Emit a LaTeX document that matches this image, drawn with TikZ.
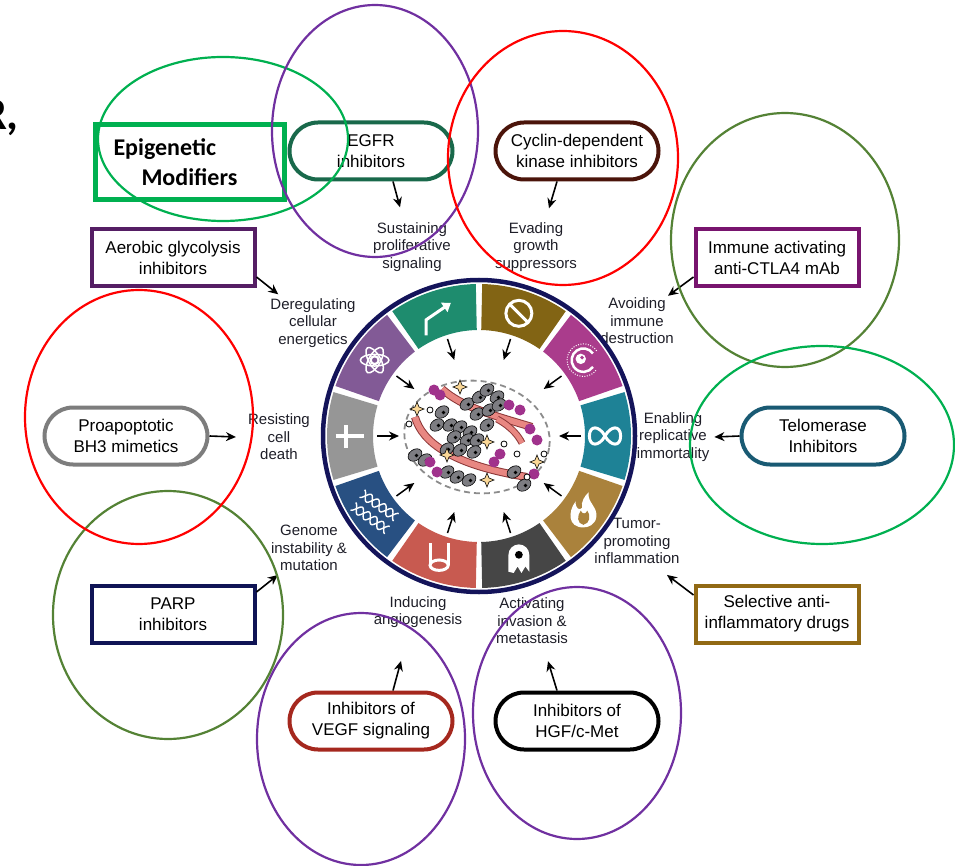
\documentclass[tikz,border=0pt]{standalone}
\usepackage{fontspec}
\setmainfont{Liberation Sans}
\newfontfamily\calibri{Carlito}
\usetikzlibrary{arrows.meta,calc}
% box outlines
\definecolor{egfrgreen}{RGB}{25,105,75}
\definecolor{cdkbrown}{RGB}{75,20,10}
\definecolor{immunemag}{RGB}{120,20,110}
\definecolor{telomteal}{RGB}{25,90,115}
\definecolor{antiinfgold}{RGB}{145,105,20}
\definecolor{vegfred}{RGB}{165,40,30}
\definecolor{parpnavy}{RGB}{15,20,85}
\definecolor{bhgray}{RGB}{125,125,125}
\definecolor{aeropurple}{RGB}{85,30,100}
\definecolor{epigreen}{RGB}{0,176,80}
% overlay rings
\definecolor{ovalgreen}{RGB}{0,176,80}
\definecolor{ovalolive}{RGB}{84,130,53}
\definecolor{ovalred}{RGB}{255,0,0}
\definecolor{ovalpurple}{RGB}{112,48,160}
% wheel segments
\definecolor{wheelnavy}{RGB}{20,20,90}
\definecolor{segteal}{RGB}{30,130,150}
\definecolor{segmag}{RGB}{170,60,140}
\definecolor{segbrown}{RGB}{130,100,20}
\definecolor{seggreen}{RGB}{30,140,110}
\definecolor{segpurple}{RGB}{130,90,150}
\definecolor{seggray}{RGB}{150,150,150}
\definecolor{segblue}{RGB}{40,80,130}
\definecolor{segsalmon}{RGB}{200,90,80}
\definecolor{segdark}{RGB}{70,70,70}
\definecolor{seggold}{RGB}{170,130,60}
% tumour
\definecolor{tumorgray}{RGB}{140,140,140}
\definecolor{cellgray}{RGB}{125,125,130}
\definecolor{vesselpink}{RGB}{232,135,130}
\definecolor{vesseldark}{RGB}{140,55,55}
\definecolor{blobpurple}{RGB}{160,50,140}
\definecolor{startan}{RGB}{250,215,150}
\definecolor{labeltext}{RGB}{30,30,40}

\begin{document}
\begin{tikzpicture}[x=1pt,y=1pt,
    >={Stealth[length=10pt,width=9pt]},
    pill/.style={draw,line width=4pt,rounded corners=28.5pt,fill=white,minimum width=163pt,minimum height=57pt,align=center,font=\fontsize{17}{21}\selectfont},
    drugbox/.style={draw,line width=4pt,fill=white,minimum width=163pt,minimum height=57pt,align=center,font=\fontsize{17}{21}\selectfont},
    hallmark/.style={align=center,inner sep=2pt,text=labeltext,font=\fontsize{15}{17.5}\selectfont},
    link/.style={->,line width=1.6pt},
    oval/.style={line width=2.2pt},
    icon/.style={white,line width=3pt}
]
\useasboundingbox (0,0) rectangle (955,-866);
\clip (0,0) rectangle (955,-866);

\node[font=\calibri\bfseries\fontsize{46}{50}\selectfont,anchor=base east,inner sep=0pt] (rmark) at (19,-130) {R,};

% therapy boxes
\node[draw=epigreen,line width=5pt,minimum width=189pt,minimum height=75pt,text width=175pt,align=left,font=\calibri\bfseries\fontsize{24}{30}\selectfont] (epi) at (190,-162) {\hspace*{11pt}Epigenetic\\\hspace*{39pt}Modifiers};
\node[pill,draw=egfrgreen] (egfr) at (371,-151) {EGFR\\inhibitors};
\node[pill,draw=cdkbrown] (cdk) at (577,-151) {Cyclin-dependent\\kinase inhibitors};
\node[drugbox,draw=immunemag] (immune) at (777,-258) {Immune activating\\anti-CTLA4 mAb};
\node[pill,draw=telomteal] (telo) at (823,-436) {Telomerase\\Inhibitors};
\node[drugbox,draw=antiinfgold] (antiinf) at (777,-614) {Selective anti-\\inflammatory drugs};
\node[pill,draw=black] (hgf) at (577,-721) {Inhibitors of\\HGF/c-Met};
\node[pill,draw=vegfred] (vegf) at (371,-721) {Inhibitors of\\VEGF signaling};
\node[drugbox,draw=parpnavy] (parp) at (173,-614) {PARP\\inhibitors};
\node[pill,draw=bhgray] (bh3) at (126,-436) {Proapoptotic\\BH3 mimetics};
\node[drugbox,draw=aeropurple] (aero) at (173,-258) {Aerobic glycolysis\\inhibitors};

% hallmark labels
\node[hallmark] (sustain) at (412,-247) {Sustaining\\proliferative\\signaling};
\node[hallmark] (evade) at (536,-247) {Evading\\growth\\suppressors};
\node[hallmark] (avoid) at (637,-321) {Avoiding\\immune\\destruction};
\node[hallmark] (enable) at (673,-437) {Enabling\\replicative\\immortality};
\node[hallmark] (tumor) at (637,-541) {Tumor-\\promoting\\inflammation};
\node[hallmark] (invade) at (532,-621) {Activating\\invasion \&\\metastasis};
\node[hallmark] (angio) at (418,-612) {Inducing\\angiogenesis};
\node[hallmark] (genome) at (309,-548) {Genome\\instability \&\\mutation};
\node[hallmark] (resist) at (279,-437) {Resisting\\cell\\death};
\node[hallmark] (dereg) at (313,-323) {Deregulating\\cellular\\energetics};

\draw[link] ([xshift=22pt]egfr.south) -- ([xshift=-12pt,yshift=13pt]sustain.north);
\draw[link] ([xshift=-20pt]cdk.south) -- ([xshift=13pt,yshift=12pt]evade.north);
\draw[link] ([yshift=-19pt]immune.west) -- ([xshift=31pt]avoid.north);
\draw[link] (telo.west) -- ([xshift=3pt]enable.east);
\draw[link] ([yshift=19pt]antiinf.west) -- ([xshift=30pt,yshift=-9pt]tumor.south);
\draw[link] ([xshift=-20pt]hgf.north) -- ([xshift=16pt,yshift=-15pt]invade.south);
\draw[link] ([xshift=22pt]vegf.north) -- ([xshift=-17pt,yshift=-31pt]angio.south);
\draw[link] ([yshift=22pt]parp.east) -- ([xshift=9pt,yshift=-2pt]genome.south west);
\draw[link] (bh3.east) -- ([xshift=-10pt]resist.west);
\draw[link] ([yshift=-19pt]aero.east) -- ([xshift=10pt,yshift=2pt]dereg.north west);

% hallmark wheel
\begin{scope}[shift={(479,-436)}]
  \draw[wheelnavy,line width=4.5pt] (0,0) circle[radius=156pt];
  \foreach \a/\col in {0/segteal,36/segmag,72/segbrown,108/seggreen,144/segpurple,180/seggray,216/segblue,252/segsalmon,288/segdark,324/seggold}
    \fill[\col] ({\a-16.8}:152pt) arc[start angle=\a-16.8,end angle=\a+16.8,radius=152pt]
      -- ({\a+16.8}:106pt) arc[start angle=\a+16.8,end angle=\a-16.8,radius=106pt] -- cycle;
  \foreach \a in {0,36,...,324}
    \draw[->,line width=1.5pt,>={Stealth[length=10pt,width=9pt]}] (\a:102pt) -- (\a:80pt);

  % icons
  \begin{scope}[shift={(108:129pt)},scale=1.3]
    \draw[icon,-{Triangle[length=8pt,width=11pt]}] (-10,-17) -- (-10,-5) -- (9,8);
  \end{scope}
  \begin{scope}[shift={(72:129pt)},scale=1.3]
    \draw[icon] (0,0) circle[radius=10pt] (-6.5,6.5) -- (6.5,-6.5);
  \end{scope}
  \begin{scope}[shift={(36:129pt)},scale=1.3]
    \draw[icon,line width=2.5pt] (35:9pt) arc[start angle=35,end angle=325,radius=9pt];
    \draw[white,line width=1pt,dash pattern=on 1pt off 1.5pt] (35:12.5pt) arc[start angle=35,end angle=325,radius=12.5pt];
    \fill[white] (-2,1) circle[radius=4pt];
    \fill[segmag] (-1,2) circle[radius=1.5pt];
  \end{scope}
  \begin{scope}[shift={(0:126pt)},scale=1.2]
    \draw[icon] (0,0) .. controls (5,9) and (13,9) .. (13,0) .. controls (13,-9) and (5,-9) .. (0,0)
      .. controls (-5,9) and (-13,9) .. (-13,0) .. controls (-13,-9) and (-5,-9) .. (0,0);
  \end{scope}
  \begin{scope}[shift={(324:129pt)},scale=1.3]
    \fill[white] (0,-12) .. controls (-12,-12) and (-12,0) .. (-6,8) .. controls (-6,2) and (-3,1) .. (-1,3)
      .. controls (-2,8) and (1,12) .. (4,15) .. controls (3,7) and (11,4) .. (10,-4) .. controls (9,-10) and (4,-12) .. (0,-12) -- cycle;
    \fill[seggold] (0,-10) .. controls (-5,-9) and (-5,-3) .. (-2,1) .. controls (-1,-2) and (2,-2) .. (3,1)
      .. controls (6,-3) and (5,-9) .. (0,-10) -- cycle;
  \end{scope}
  \begin{scope}[shift={(288:129pt)},scale=1.3]
    \fill[white] (-8,-10) -- (-8,3) arc[start angle=180,end angle=0,radius=8pt] -- (8,-10) -- (5,-6) -- (2,-11) -- (-1,-6) -- (-4,-11) -- cycle;
    \fill[black] (0,3) circle[radius=3pt];
  \end{scope}
  \begin{scope}[shift={(252:129pt)},scale=1.3]
    \draw[icon] (-7,12) -- (-7,-5) (7,12) -- (7,-5);
    \draw[icon] (0,-5) ellipse[x radius=7pt,y radius=4pt];
  \end{scope}
  \begin{scope}[shift={(216:129pt)},rotate=-35,scale=1.3]
    \foreach \dy in {-6,6} {
      \draw[white,line width=1.4pt] plot[domain=-16:16,samples=40] (\x,{\dy+3.5*sin(\x*28)});
      \draw[white,line width=1.4pt] plot[domain=-16:16,samples=40] (\x,{\dy-3.5*sin(\x*28)});
    }
  \end{scope}
  \begin{scope}[shift={(180:129pt)},scale=1.2]
    \draw[icon,line width=4pt] (-12,0) -- (12,0) (-3,9) -- (-3,-10);
  \end{scope}
  \begin{scope}[shift={(144:129pt)},scale=1.3]
    \foreach \r in {0,60,120}
      \draw[white,line width=1.5pt,rotate=\r] (0,0) ellipse[x radius=11pt,y radius=4.5pt];
    \fill[white] (0,0) circle[radius=4pt];
    \fill[segpurple] (0,0) circle[radius=2pt];
  \end{scope}
\end{scope}

% tumour core
\begin{scope}[shift={(477,-437)}]
  \draw[tumorgray,line width=1.8pt,dash pattern=on 6pt off 4pt,rotate=-8] (0,0) ellipse[x radius=73pt,y radius=56pt];
  \draw[vesseldark,line width=1pt,double=vesselpink,double distance=6pt] (-35,48) .. controls (-15,30) and (15,22) .. (55,10);
  \draw[vesseldark,line width=1pt,double=vesselpink,double distance=5pt] (20,18) .. controls (35,10) and (42,0) .. (45,-6);
  \draw[vesseldark,line width=1pt,double=vesselpink,double distance=6pt] (-62,20) .. controls (-55,-5) and (-25,-28) .. (50,-40);
  \foreach \x/\y in {-10/33,2/40,10/47,20/40,0/23,12/27,22/32,-40/12,-27/12,-17/10,-7/5,-23/0,-10/-3,0/-3,-17/-13,-3/-15,-62/-18,-52/-23,-30/-35,-20/-40,-8/-43,37/-35,47/-48,-30/-12,10/12,-35/25}{
    \filldraw[fill=cellgray,draw=black,line width=0.6pt,rotate around={35:(\x,\y)}] (\x,\y) ellipse[x radius=7.5pt,y radius=5.5pt];
    \fill[black] ({\x+1.5},{\y-0.5}) circle[radius=1.8pt];
  }
  \foreach \x/\y in {-43/47,-37/42,32/32,43/27,53/8,60/-3,23/-17,17/-25,57/-37,-47/-25,-40/-35}
    \fill[blobpurple] (\x,\y) circle[radius=5.5pt];
  \foreach \x/\y in {-60/28,-17/50,10/-5,-30/-18,10/-43,60/-25}
    \filldraw[fill=startan,draw=black,line width=0.6pt] (\x,{\y+7}) -- ({\x+2},{\y+2}) -- ({\x+7},\y) -- ({\x+2},{\y-2}) -- (\x,{\y-7}) -- ({\x-2},{\y-2}) -- ({\x-7},\y) -- ({\x-2},{\y+2}) -- cycle;
  \foreach \x/\y in {-47/27,-68/13,27/-7,40/-17,67/-17,50/-40}
    \draw[black,line width=0.8pt,fill=white] (\x,\y) circle[radius=3pt];
\end{scope}

% highlight rings
\draw[oval,ovalgreen] (223,-139) ellipse[x radius=125pt,y radius=82pt];
\draw[oval,ovalpurple] (375,-131) ellipse[x radius=103pt,y radius=126pt];
\draw[oval,ovalred] (563,-158) ellipse[x radius=115pt,y radius=127pt];
\draw[oval,ovalolive] (785,-240) ellipse[x radius=114pt,y radius=127pt];
\draw[oval,ovalgreen] (822,-445) ellipse[x radius=132pt,y radius=99pt];
\draw[oval,ovalpurple] (577,-713) ellipse[x radius=104pt,y radius=126pt];
\draw[oval,ovalpurple] (361,-739) ellipse[x radius=104pt,y radius=126pt];
\draw[oval,ovalolive] (168,-615) ellipse[x radius=115pt,y radius=124pt];
\draw[oval,ovalred] (139,-417) ellipse[x radius=114pt,y radius=127pt];
\end{tikzpicture}
\end{document}
